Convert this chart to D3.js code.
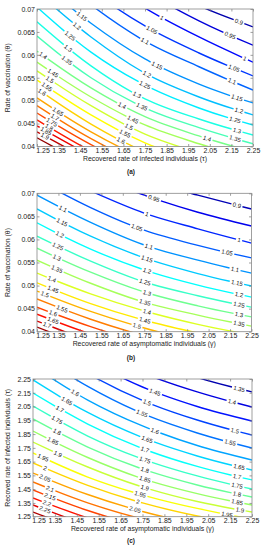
<!DOCTYPE html>
<html>
<head>
<meta charset="utf-8">
<script src="https://cdn.jsdelivr.net/npm/d3@7"></script>
<style>
body { margin: 0; background: #fff; }
svg { display: block; }
text { font-family: "Liberation Sans", Arial, sans-serif; }
</style>
</head>
<body>
<svg id="chart"></svg>
<script>
var width = 264, height = 550;

var cols = [1.25, 1.5, 1.75, 2.0, 2.25];
var xTicks = [1.25, 1.35, 1.45, 1.55, 1.65, 1.75, 1.85, 1.95, 2.05, 2.15, 2.25];
var thetaTicks = [0.04, 0.045, 0.05, 0.055, 0.06, 0.065, 0.07];
var tauTicks = [1.25, 1.35, 1.45, 1.55, 1.65, 1.75, 1.85, 1.95, 2.05, 2.15, 2.25];

// (a) R0 over tau (x) and theta (y): theta of each level at the columns
var levelsA = [0.9, 0.95, 1, 1.05, 1.1, 1.15, 1.2, 1.25, 1.3, 1.35, 1.4, 1.45, 1.5, 1.55, 1.6, 1.65, 1.7, 1.75, 1.8, 1.85, 1.9, 1.95];
var thetaA = [
  [0.0938, 0.0840, 0.0763, 0.0707, 0.0661],
  [0.0905, 0.0818, 0.0739, 0.0674, 0.0621],
  [0.0870, 0.0779, 0.0702, 0.0639, 0.0584],
  [0.0837, 0.0741, 0.0663, 0.0604, 0.0554],
  [0.0807, 0.0709, 0.0630, 0.0574, 0.0523],
  [0.0765, 0.0669, 0.0591, 0.0536, 0.0495],
  [0.0737, 0.0639, 0.0560, 0.0508, 0.0469],
  [0.0704, 0.0606, 0.0534, 0.0484, 0.0447],
  [0.0672, 0.0576, 0.0504, 0.0460, 0.0425],
  [0.0641, 0.0550, 0.0484, 0.0441, 0.0406],
  [0.0608, 0.0528, 0.0465, 0.0423, 0.0388],
  [0.0584, 0.0508, 0.0447, 0.0406, 0.0371],
  [0.0565, 0.0489, 0.0427, 0.0386, 0.0351],
  [0.0545, 0.0469, 0.0408, 0.0367, 0.0332],
  [0.0526, 0.0449, 0.0388, 0.0347, 0.0312],
  [0.0506, 0.0432, 0.0373, 0.0332, 0.0297],
  [0.0489, 0.0417, 0.0360, 0.0318, 0.0284],
  [0.0473, 0.0404, 0.0347, 0.0305, 0.0271],
  [0.0458, 0.0390, 0.0334, 0.0292, 0.0257],
  [0.0445, 0.0380, 0.0323, 0.0281, 0.0247],
  [0.0432, 0.0369, 0.0312, 0.0271, 0.0236],
  [0.0419, 0.0356, 0.0299, 0.0258, 0.0223]
];
// tau where the inline level labels sit on each line
var labelTauA = [
  [2.185], [2.144], [1.829, 2.213], [1.782, 2.162], [1.75, 2.153],
  [1.458, 1.806, 2.176], [1.435, 1.759, 2.185], [1.403, 1.75, 2.167], [1.394, 1.713, 2.176], [1.389, 1.736, 2.167],
  [1.278, 1.644, 2.037], [1.324, 1.694], [1.31, 1.676], [1.296, 1.657], [1.273, 1.639],
  [1.347], [1.333], [1.319], [1.306], [1.292], [1.287], []
];

// (b) R0 over gamma (x) and theta (y)
var levelsB = [0.9, 0.95, 1, 1.05, 1.1, 1.15, 1.2, 1.25, 1.3, 1.35, 1.4, 1.45, 1.5, 1.55, 1.6, 1.65, 1.7, 1.75];
var thetaB = [
  [0.0816, 0.0770, 0.0729, 0.0696, 0.0666],
  [0.0787, 0.0740, 0.0696, 0.0659, 0.0629],
  [0.0759, 0.0705, 0.0657, 0.0623, 0.0592],
  [0.0729, 0.0669, 0.0620, 0.0587, 0.0560],
  [0.0696, 0.0637, 0.0588, 0.0555, 0.0527],
  [0.0666, 0.0607, 0.0560, 0.0526, 0.0499],
  [0.0636, 0.0579, 0.0534, 0.0501, 0.0475],
  [0.0607, 0.0553, 0.0508, 0.0478, 0.0453],
  [0.0581, 0.0529, 0.0486, 0.0456, 0.0432],
  [0.0555, 0.0505, 0.0464, 0.0436, 0.0412],
  [0.0527, 0.0482, 0.0445, 0.0416, 0.0393],
  [0.0506, 0.0461, 0.0425, 0.0397, 0.0373],
  [0.0488, 0.0444, 0.0408, 0.0379, 0.0356],
  [0.0471, 0.0427, 0.0391, 0.0362, 0.0339],
  [0.0453, 0.0411, 0.0375, 0.0347, 0.0323],
  [0.0438, 0.0395, 0.0360, 0.0332, 0.0308],
  [0.0423, 0.0380, 0.0345, 0.0316, 0.0293],
  [0.0410, 0.0367, 0.0332, 0.0303, 0.0280]
];
var labelGammaB = [
  [2.182], [1.795], [1.763, 2.192], [1.716, 2.136], [1.371, 1.772, 2.173],
  [1.367, 1.763, 2.182], [1.357, 1.763, 2.192], [1.348, 1.753, 2.192], [1.343, 1.763, 2.192], [1.343, 1.753, 2.192],
  [1.32, 1.763], [1.325, 1.753], [1.287, 1.716], [1.367], [1.325], [1.325], [1.297], []
];

// (c) R0 over gamma (x) and tau (y)
var levelsC = [1.35, 1.4, 1.45, 1.5, 1.55, 1.6, 1.65, 1.7, 1.75, 1.8, 1.85, 1.9, 1.95, 2, 2.05, 2.1, 2.15, 2.2, 2.25, 2.3];
var tauC = [
  [2.831, 2.588, 2.399, 2.261, 2.156],
  [2.729, 2.482, 2.294, 2.156, 2.047],
  [2.635, 2.388, 2.192, 2.050, 1.945],
  [2.540, 2.290, 2.094, 1.952, 1.843],
  [2.446, 2.196, 1.999, 1.858, 1.749],
  [2.344, 2.097, 1.909, 1.767, 1.662],
  [2.243, 2.007, 1.825, 1.691, 1.589],
  [2.148, 1.923, 1.745, 1.615, 1.517],
  [2.054, 1.836, 1.669, 1.546, 1.451],
  [1.960, 1.756, 1.596, 1.480, 1.393],
  [1.872, 1.680, 1.527, 1.418, 1.335],
  [1.792, 1.611, 1.466, 1.360, 1.284],
  [1.713, 1.538, 1.408, 1.310, 1.233],
  [1.640, 1.477, 1.350, 1.255, 1.183],
  [1.567, 1.411, 1.288, 1.197, 1.132],
  [1.502, 1.350, 1.233, 1.146, 1.081],
  [1.444, 1.295, 1.179, 1.095, 1.030],
  [1.386, 1.241, 1.124, 1.041, 0.979],
  [1.335, 1.190, 1.074, 0.990, 0.928],
  [1.284, 1.139, 1.023, 0.939, 0.877]
];
var labelGammaC = [
  [2.191], [2.159], [1.807], [1.771, 2.172], [1.748, 2.15],
  [1.442, 1.807], [1.405, 1.771, 2.191], [1.373, 1.761, 2.182], [1.36, 1.761, 2.182], [1.36, 1.761, 2.182],
  [1.341, 1.761, 2.182], [1.364, 1.761, 2.195], [1.296, 1.74, 2.136], [1.305, 1.729], [1.305, 1.716],
  [1.328], [1.328], [1.314], [1.305], []
];

var panels = [
  { levels: levelsA, rows: thetaA, labelAt: labelTauA, xdom: [1.25, 2.25], ydom: [0.04, 0.07], yticks: thetaTicks, yfmt: String,
    box: [37, 9, 253, 146.5], cdom: [0.85, 1.97], cap: "(a)", capY: 174, xlabY: 160.5, ylabX: 9.5,
    xlabel: "Recovered rate of infected individuals (\u03c4)", ylabel: "Rate of vaccination (\u03b8)" },
  { levels: levelsB, rows: thetaB, labelAt: labelGammaB, xdom: [1.25, 2.25], ydom: [0.04, 0.07], yticks: thetaTicks, yfmt: String,
    box: [37, 193.3, 251.5, 331.7], cdom: [0.85, 1.78], cap: "(b)", capY: 359.5, xlabY: 345.5, ylabX: 9.5,
    xlabel: "Recovered rate of asymptomatic individuals (\u03b3)", ylabel: "Rate of vaccination (\u03b8)" },
  { levels: levelsC, rows: tauC, labelAt: labelGammaC, xdom: [1.25, 2.25], ydom: [1.25, 2.25], yticks: tauTicks, yfmt: d3.format(".2f"),
    box: [33, 379, 252, 516.7], cdom: [1.3, 2.35], cap: "(c)", capY: 543, xlabY: 531, ylabX: 10,
    xlabel: "Recovered rate of asymptomatic individuals (\u03b3)", ylabel: "Recoved rate of infected individuals (\u03c4)" }
];

function jet(t) {
  var c = function(v) { return Math.max(0, Math.min(1, v)) * 255; };
  return d3.rgb(c(1.5 - Math.abs(4 * t - 3)), c(1.5 - Math.abs(4 * t - 2)), c(1.5 - Math.abs(4 * t - 1))) + "";
}

var chart = d3.select("#chart")
    .attr("width", width)
    .attr("height", height);

// path length where the line reaches a given pixel x (lines run left to right)
function lengthAtX(node, px) {
  var lo = 0, hi = node.getTotalLength();
  for (var k = 0; k < 30; k++) {
    var mid = (lo + hi) / 2;
    if (node.getPointAtLength(mid).x < px) lo = mid; else hi = mid;
  }
  return (lo + hi) / 2;
}

// inline labels like matlab's clabel: text along the line, line broken under it
function placeLabels(node, lv, xs, layer) {
  var L = node.getTotalLength();
  var gaps = [];
  xs.forEach(function(px) {
    var s = lengthAtX(node, px);
    var a = node.getPointAtLength(Math.max(0, s - 4)),
        b = node.getPointAtLength(Math.min(L, s + 4)),
        c = node.getPointAtLength(s);
    var ang = Math.atan2(b.y - a.y, b.x - a.x) * 180 / Math.PI;
    var t = layer.append("text")
        .attr("transform", "translate(" + c.x + "," + c.y + ") rotate(" + ang + ")")
        .attr("text-anchor", "middle")
        .attr("dy", "0.35em")
        .attr("font-size", "6px")
        .attr("fill", "#111")
        .text(String(lv));
    gaps.push([s, t.node().getComputedTextLength() + 3]);
  });
  if (gaps.length) {
    var dash = [], pos = 0;
    gaps.forEach(function(g) {
      dash.push(Math.max(0, g[0] - g[1] / 2 - pos), g[1]);
      pos = g[0] + g[1] / 2;
    });
    dash.push(L, 0);
    node.setAttribute("stroke-dasharray", dash.join(" "));
  }
}

panels.forEach(function(p, pi) {
  var box = p.box;
  var x = d3.scaleLinear().domain(p.xdom).range([box[0], box[2]]);
  var y = d3.scaleLinear().domain(p.ydom).range([box[3], box[1]]);
  var color = d3.scaleSequential(jet).domain(p.cdom);

  chart.append("clipPath").attr("id", "clip" + pi)
    .append("rect")
    .attr("x", box[0]).attr("y", box[1])
    .attr("width", box[2] - box[0]).attr("height", box[3] - box[1]);

  var line = d3.line()
      .x(function(d) { return x(d[0]); })
      .y(function(d) { return y(d[1]); })
      .curve(d3.curveMonotoneX);

  var lines = chart.append("g").attr("clip-path", "url(#clip" + pi + ")");
  var labels = chart.append("g");

  p.levels.forEach(function(lv, i) {
    var pts = cols.map(function(c, j) { return [c, p.rows[i][j]]; });
    var path = lines.append("path")
        .attr("d", line(pts))
        .attr("fill", "none")
        .attr("stroke", color(lv))
        .attr("stroke-width", 1.4);
    placeLabels(path.node(), lv, p.labelAt[i].map(x), labels);
  });

  // box and inward ticks on all four sides
  var ax = chart.append("g");
  var bottom = ax.append("g").attr("transform", "translate(0," + box[3] + ")")
    .call(d3.axisBottom(x).tickValues(xTicks).tickFormat(d3.format(".2f")).tickSizeInner(-2.5).tickSizeOuter(0).tickPadding(1.5));
  ax.append("g").attr("transform", "translate(0," + box[1] + ")")
    .call(d3.axisTop(x).tickValues(xTicks).tickFormat("").tickSizeInner(-2.5).tickSizeOuter(0));
  ax.append("g").attr("transform", "translate(" + box[0] + ",0)")
    .call(d3.axisLeft(y).tickValues(p.yticks).tickFormat(p.yfmt).tickSizeInner(-2.5).tickSizeOuter(0).tickPadding(2));
  ax.append("g").attr("transform", "translate(" + box[2] + ",0)")
    .call(d3.axisRight(y).tickValues(p.yticks).tickFormat("").tickSizeInner(-2.5).tickSizeOuter(0));
  ax.selectAll(".domain").remove();
  ax.selectAll(".tick line").attr("stroke", "#777").attr("stroke-width", 0.7);
  ax.selectAll(".tick text")
    .attr("fill", "#222")
    .attr("font-size", "7px")
    .attr("font-family", "'Liberation Sans', Arial, sans-serif");
  // first x label sits a little right of the corner, clear of the lowest y label
  bottom.selectAll(".tick text").filter(function(d, i) { return i === 0; }).attr("dx", 5.5);
  ax.append("rect")
    .attr("x", box[0]).attr("y", box[1])
    .attr("width", box[2] - box[0]).attr("height", box[3] - box[1])
    .attr("fill", "none").attr("stroke", "#888").attr("stroke-width", 0.8);

  chart.append("text")
    .attr("x", (box[0] + box[2]) / 2).attr("y", p.xlabY)
    .attr("text-anchor", "middle").attr("font-size", "6.9px").attr("fill", "#222")
    .text(p.xlabel);
  chart.append("text")
    .attr("transform", "translate(" + p.ylabX + "," + ((box[1] + box[3]) / 2) + ") rotate(-90)")
    .attr("text-anchor", "middle").attr("font-size", "6.9px").attr("fill", "#222")
    .text(p.ylabel);
  chart.append("text")
    .attr("x", 131).attr("y", p.capY)
    .attr("text-anchor", "middle").attr("font-size", "6.5px").attr("font-weight", "bold").attr("fill", "#222")
    .text(p.cap);
});
</script>
</body>
</html>
